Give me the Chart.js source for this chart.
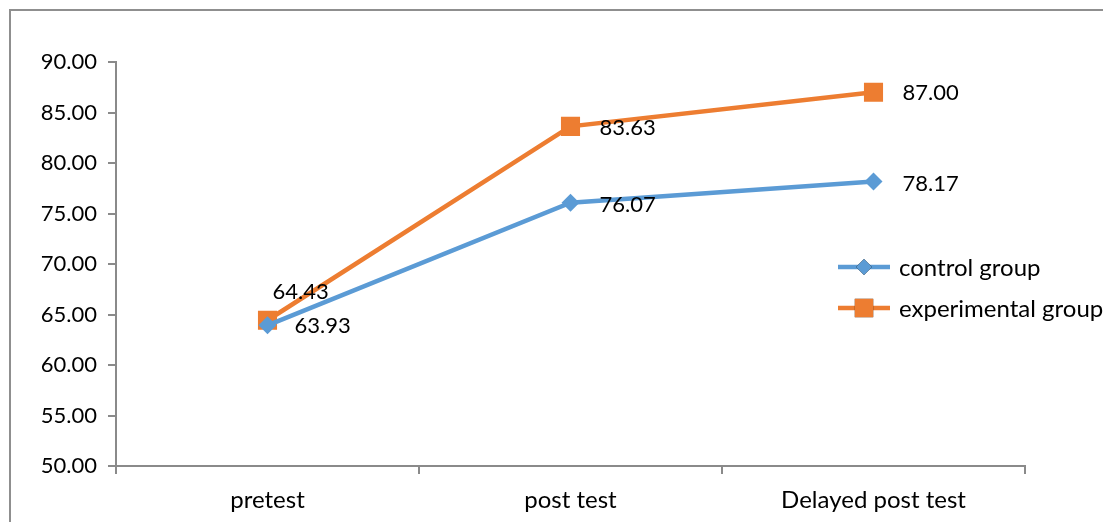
<!DOCTYPE html>
<html>
<head>
<meta charset="utf-8">
<script src="https://cdn.jsdelivr.net/npm/chart.js@4/dist/chart.umd.min.js"></script>
<style>
  html, body { margin: 0; padding: 0; background: #fff; }
  #wrap { width: 1103px; height: 522px; }
</style>
</head>
<body>
<div id="wrap"><canvas id="c" width="1103" height="522"></canvas></div>
<script>
// Test phases and mean scores per group
const categories = ['pretest', 'post test', 'Delayed post test'];
const controlGroup = [63.93, 76.07, 78.17];
const experimentalGroup = [64.43, 83.63, 87.00];
const yTicks = { min: 50, max: 90, step: 5 };

const FONT = 'Lato, "Open Sans", sans-serif';
const NUM_SIZE = 22;
const WORD_SIZE = 24;
const AXIS_GREY = '#8a8a8a';

// Value labels beside each point (offsets in px from the point centre)
const labelOffsets = [
  [[27, 1], [29, 2], [29, 2]],
  [[5, -28], [29, 2], [29, 1]]
];

const valueLabels = {
  id: 'valueLabels',
  afterDatasetsDraw(chart) {
    const ctx = chart.ctx;
    ctx.save();
    ctx.font = NUM_SIZE + 'px ' + FONT;
    ctx.fillStyle = '#000';
    ctx.textAlign = 'left';
    ctx.textBaseline = 'middle';
    chart.data.datasets.forEach((ds, di) => {
      chart.getDatasetMeta(di).data.forEach((pt, i) => {
        const off = labelOffsets[di][i];
        ctx.fillText(ds.data[i].toFixed(2), pt.x + off[0], pt.y + off[1]);
      });
    });
    ctx.restore();
  }
};

// Outer frame and the legend box on the right
const frameAndLegend = {
  id: 'frameAndLegend',
  beforeDraw(chart) {
    const ctx = chart.ctx;
    ctx.save();
    ctx.strokeStyle = '#8f8f8f';
    ctx.lineWidth = 2;
    ctx.beginPath();
    ctx.moveTo(10, chart.height + 5);
    ctx.lineTo(10, 10);
    ctx.lineTo(chart.width + 5, 10);
    ctx.stroke();
    ctx.restore();
  },
  afterDraw(chart) {
    const ctx = chart.ctx;
    ctx.save();
    const x0 = 838, x1 = 890, tx = 899;
    const ys = [267, 308];
    chart.data.datasets.forEach((ds, di) => {
      const y = ys[di];
      ctx.strokeStyle = ds.borderColor;
      ctx.lineWidth = ds.borderWidth;
      ctx.beginPath();
      ctx.moveTo(x0, y);
      ctx.lineTo(x1, y);
      ctx.stroke();
      Chart.helpers.drawPoint(ctx, {
        pointStyle: ds.pointStyle,
        radius: ds.pointStyle === 'rect' ? 13 : 8,
        borderWidth: 0,
        rotation: 0
      }, (x0 + x1) / 2, y);
      ctx.fillStyle = ds.pointBackgroundColor;
      ctx.fill();
      ctx.fillStyle = '#000';
      ctx.font = WORD_SIZE + 'px ' + FONT;
      ctx.textAlign = 'left';
      ctx.textBaseline = 'middle';
      ctx.fillText(ds.label, tx, y + 1);
    });
    ctx.restore();
  }
};

new Chart(document.getElementById('c'), {
  type: 'line',
  data: {
    labels: categories,
    datasets: [
      {
        label: 'control group',
        data: controlGroup,
        borderColor: '#5B9BD5',
        backgroundColor: '#5B9BD5',
        pointBackgroundColor: '#5B9BD5',
        pointBorderColor: '#5B9BD5',
        borderWidth: 4.5,
        pointStyle: 'rectRot',
        pointRadius: 9,
        pointBorderWidth: 0,
        tension: 0
      },
      {
        label: 'experimental group',
        data: experimentalGroup,
        borderColor: '#ED7D31',
        backgroundColor: '#ED7D31',
        pointBackgroundColor: '#ED7D31',
        pointBorderColor: '#ED7D31',
        borderWidth: 4.5,
        pointStyle: 'rect',
        pointRadius: 13.5,
        pointBorderWidth: 0,
        tension: 0
      }
    ]
  },
  options: {
    responsive: false,
    animation: false,
    layout: { padding: { left: 0, top: 62, right: 78, bottom: 0 } },
    plugins: {
      legend: { display: false },
      tooltip: { enabled: false }
    },
    scales: {
      x: {
        offset: true,
        grid: {
          offset: true,
          drawOnChartArea: false,
          drawTicks: true,
          tickLength: 8,
          color: AXIS_GREY,
          lineWidth: 2
        },
        border: { color: AXIS_GREY, width: 2 },
        ticks: {
          color: '#000',
          font: { family: FONT, size: WORD_SIZE },
          padding: 12,
          maxRotation: 0
        },
        afterFit(scale) { scale.height = 56; }
      },
      y: {
        min: yTicks.min,
        max: yTicks.max,
        grid: {
          drawOnChartArea: false,
          drawTicks: true,
          tickLength: 8,
          color: AXIS_GREY,
          lineWidth: 2
        },
        border: { color: AXIS_GREY, width: 2 },
        ticks: {
          stepSize: yTicks.step,
          color: '#000',
          font: { family: FONT, size: NUM_SIZE },
          padding: 11,
          callback: v => Number(v).toFixed(2)
        },
        afterFit(scale) { scale.width = 116; }
      }
    }
  },
  plugins: [frameAndLegend, valueLabels]
});
</script>
</body>
</html>
